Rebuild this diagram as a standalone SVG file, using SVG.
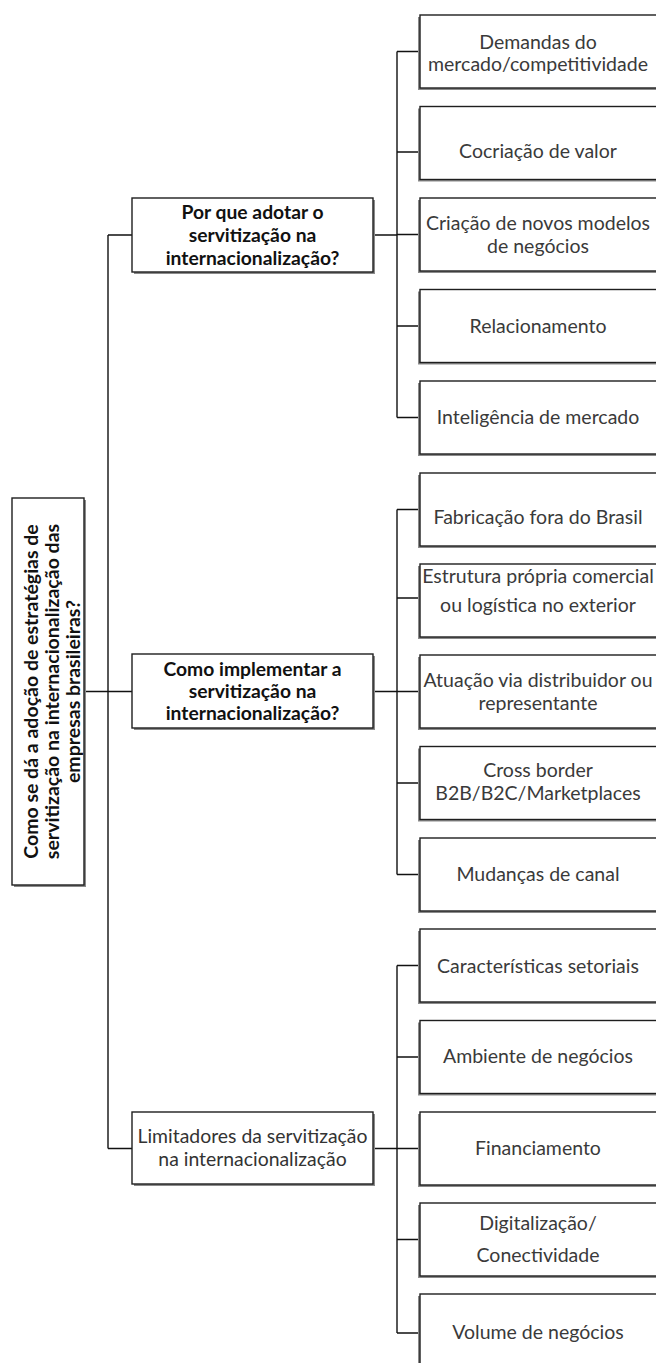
<svg xmlns="http://www.w3.org/2000/svg" width="656" height="1363" viewBox="0 0 656 1363">
  <defs>
    <style>
      .box { fill: #ffffff; stroke: #1e1e1e; stroke-width: 1.4; }
      .shadow { fill: #8a8a8a; }
      .wire { fill: none; stroke: #111111; stroke-width: 1.4; }
      .leaf { font-family: Lato, "Liberation Sans", sans-serif; font-size: 19.5px; fill: #3a3a3a; text-anchor: middle; }
      .mid { font-family: Lato, "Liberation Sans", sans-serif; font-size: 19.3px; fill: #111111; text-anchor: middle; font-weight: bold; }
      .midn { font-family: Lato, "Liberation Sans", sans-serif; font-size: 19.4px; fill: #333333; text-anchor: middle; }
      .root { font-family: Lato, "Liberation Sans", sans-serif; font-size: 19.5px; fill: #111111; text-anchor: middle; font-weight: bold; }
    </style>
  </defs>
  <rect width="656" height="1363" fill="#ffffff"/>

  <!-- connectors -->
  <g id="connectors" class="wire">
    <!-- root to second level -->
    <path d="M84 691.5 H108 M108 235 V1148.5 M108 235 H132 M108 691.5 H132 M108 1148.5 H132"/>
    <!-- first branch -->
    <path d="M373 235 H397 M397 51.5 V417.5 M397 51.5 H420 M397 152 H420 M397 234.5 H420 M397 326 H420 M397 417.5 H420"/>
    <!-- second branch -->
    <path d="M373 691.5 H397 M397 509.5 V874.5 M397 509.5 H420 M397 598 H420 M397 691.5 H420 M397 783 H420 M397 874.5 H420"/>
    <!-- third branch -->
    <path d="M373 1148.5 H397 M397 965.5 V1333 M397 965.5 H420 M397 1057 H420 M397 1148.5 H420 M397 1239.5 H420 M397 1333 H420"/>
  </g>

  <!-- root -->
  <g id="root">
    <rect class="shadow" x="14" y="500" width="72" height="387"/>
    <rect class="box" x="12" y="498" width="72" height="387"/>
    <g transform="translate(48 691.5) rotate(-90)">
      <text class="root" x="0" y="-10">Como se dá a adoção de estratégias de</text>
      <text class="root" x="0" y="11">servitização na internacionalização das</text>
      <text class="root" x="0" y="32">empresas brasileiras?</text>
    </g>
  </g>

  <!-- second level -->
  <g id="q-por-que">
    <rect class="shadow" x="134" y="200" width="241" height="74"/>
    <rect class="box" x="132" y="198" width="241" height="74"/>
    <text class="mid" x="252.5" y="219">Por que adotar o</text>
    <text class="mid" x="252.5" y="242">servitização na</text>
    <text class="mid" x="252.5" y="265">internacionalização?</text>
  </g>
  <g id="q-como">
    <rect class="shadow" x="134" y="656" width="241" height="74"/>
    <rect class="box" x="132" y="654" width="241" height="74"/>
    <text class="mid" x="252.5" y="676">Como implementar a</text>
    <text class="mid" x="252.5" y="698">servitização na</text>
    <text class="mid" x="252.5" y="720">internacionalização?</text>
  </g>
  <g id="q-limitadores">
    <rect class="shadow" x="134" y="1114" width="241" height="72"/>
    <rect class="box" x="132" y="1112" width="241" height="72"/>
    <text class="midn" x="252.5" y="1143">Limitadores da servitização</text>
    <text class="midn" x="252.5" y="1166">na internacionalização</text>
  </g>

  <!-- leaves: first branch -->
  <g id="demandas">
    <rect class="shadow" x="418" y="17" width="242" height="73"/>
    <rect class="box" x="420" y="15" width="242" height="73"/>
    <text class="leaf" x="538" y="49">Demandas do</text>
    <text class="leaf" x="538" y="71">mercado/competitividade</text>
  </g>
  <g id="cocriacao">
    <rect class="shadow" x="418" y="108.5" width="242" height="73"/>
    <rect class="box" x="420" y="106.5" width="242" height="73"/>
    <text class="leaf" x="538" y="158">Cocriação de valor</text>
  </g>
  <g id="novos-modelos">
    <rect class="shadow" x="418" y="200" width="242" height="73"/>
    <rect class="box" x="420" y="198" width="242" height="73"/>
    <text class="leaf" x="538" y="230">Criação de novos modelos</text>
    <text class="leaf" x="538" y="253">de negócios</text>
  </g>
  <g id="relacionamento">
    <rect class="shadow" x="418" y="291.5" width="242" height="73"/>
    <rect class="box" x="420" y="289.5" width="242" height="73"/>
    <text class="leaf" x="538" y="333">Relacionamento</text>
  </g>
  <g id="inteligencia">
    <rect class="shadow" x="418" y="383" width="242" height="73"/>
    <rect class="box" x="420" y="381" width="242" height="73"/>
    <text class="leaf" x="538" y="424">Inteligência de mercado</text>
  </g>

  <!-- leaves: second branch -->
  <g id="fabricacao">
    <rect class="shadow" x="418" y="475" width="242" height="73"/>
    <rect class="box" x="420" y="473" width="242" height="73"/>
    <text class="leaf" x="538" y="524">Fabricação fora do Brasil</text>
  </g>
  <g id="estrutura">
    <rect class="shadow" x="418" y="566" width="242" height="73"/>
    <rect class="box" x="420" y="564" width="242" height="73"/>
    <text class="leaf" x="538" y="583">Estrutura própria comercial</text>
    <text class="leaf" x="538" y="612">ou logística no exterior</text>
  </g>
  <g id="distribuidor">
    <rect class="shadow" x="418" y="657" width="242" height="73"/>
    <rect class="box" x="420" y="655" width="242" height="73"/>
    <text class="leaf" x="538" y="687">Atuação via distribuidor ou</text>
    <text class="leaf" x="538" y="710">representante</text>
  </g>
  <g id="cross-border">
    <rect class="shadow" x="418" y="748.5" width="242" height="73"/>
    <rect class="box" x="420" y="746.5" width="242" height="73"/>
    <text class="leaf" x="538" y="777">Cross border</text>
    <text class="leaf" x="538" y="800">B2B/B2C/Marketplaces</text>
  </g>
  <g id="canal">
    <rect class="shadow" x="418" y="840" width="242" height="73"/>
    <rect class="box" x="420" y="838" width="242" height="73"/>
    <text class="leaf" x="538" y="881">Mudanças de canal</text>
  </g>

  <!-- leaves: third branch -->
  <g id="setoriais">
    <rect class="shadow" x="418" y="931" width="242" height="73"/>
    <rect class="box" x="420" y="929" width="242" height="73"/>
    <text class="leaf" x="538" y="973">Características setoriais</text>
  </g>
  <g id="ambiente">
    <rect class="shadow" x="418" y="1022.5" width="242" height="73"/>
    <rect class="box" x="420" y="1020.5" width="242" height="73"/>
    <text class="leaf" x="538" y="1063">Ambiente de negócios</text>
  </g>
  <g id="financiamento">
    <rect class="shadow" x="418" y="1114" width="242" height="73"/>
    <rect class="box" x="420" y="1112" width="242" height="73"/>
    <text class="leaf" x="538" y="1155">Financiamento</text>
  </g>
  <g id="digitalizacao">
    <rect class="shadow" x="418" y="1205" width="242" height="73"/>
    <rect class="box" x="420" y="1203" width="242" height="73"/>
    <text class="leaf" x="538" y="1230">Digitalização/</text>
    <text class="leaf" x="538" y="1262">Conectividade</text>
  </g>
  <g id="volume">
    <rect class="shadow" x="418" y="1296" width="242" height="73"/>
    <rect class="box" x="420" y="1294" width="242" height="73"/>
    <text class="leaf" x="538" y="1339">Volume de negócios</text>
  </g>
</svg>
